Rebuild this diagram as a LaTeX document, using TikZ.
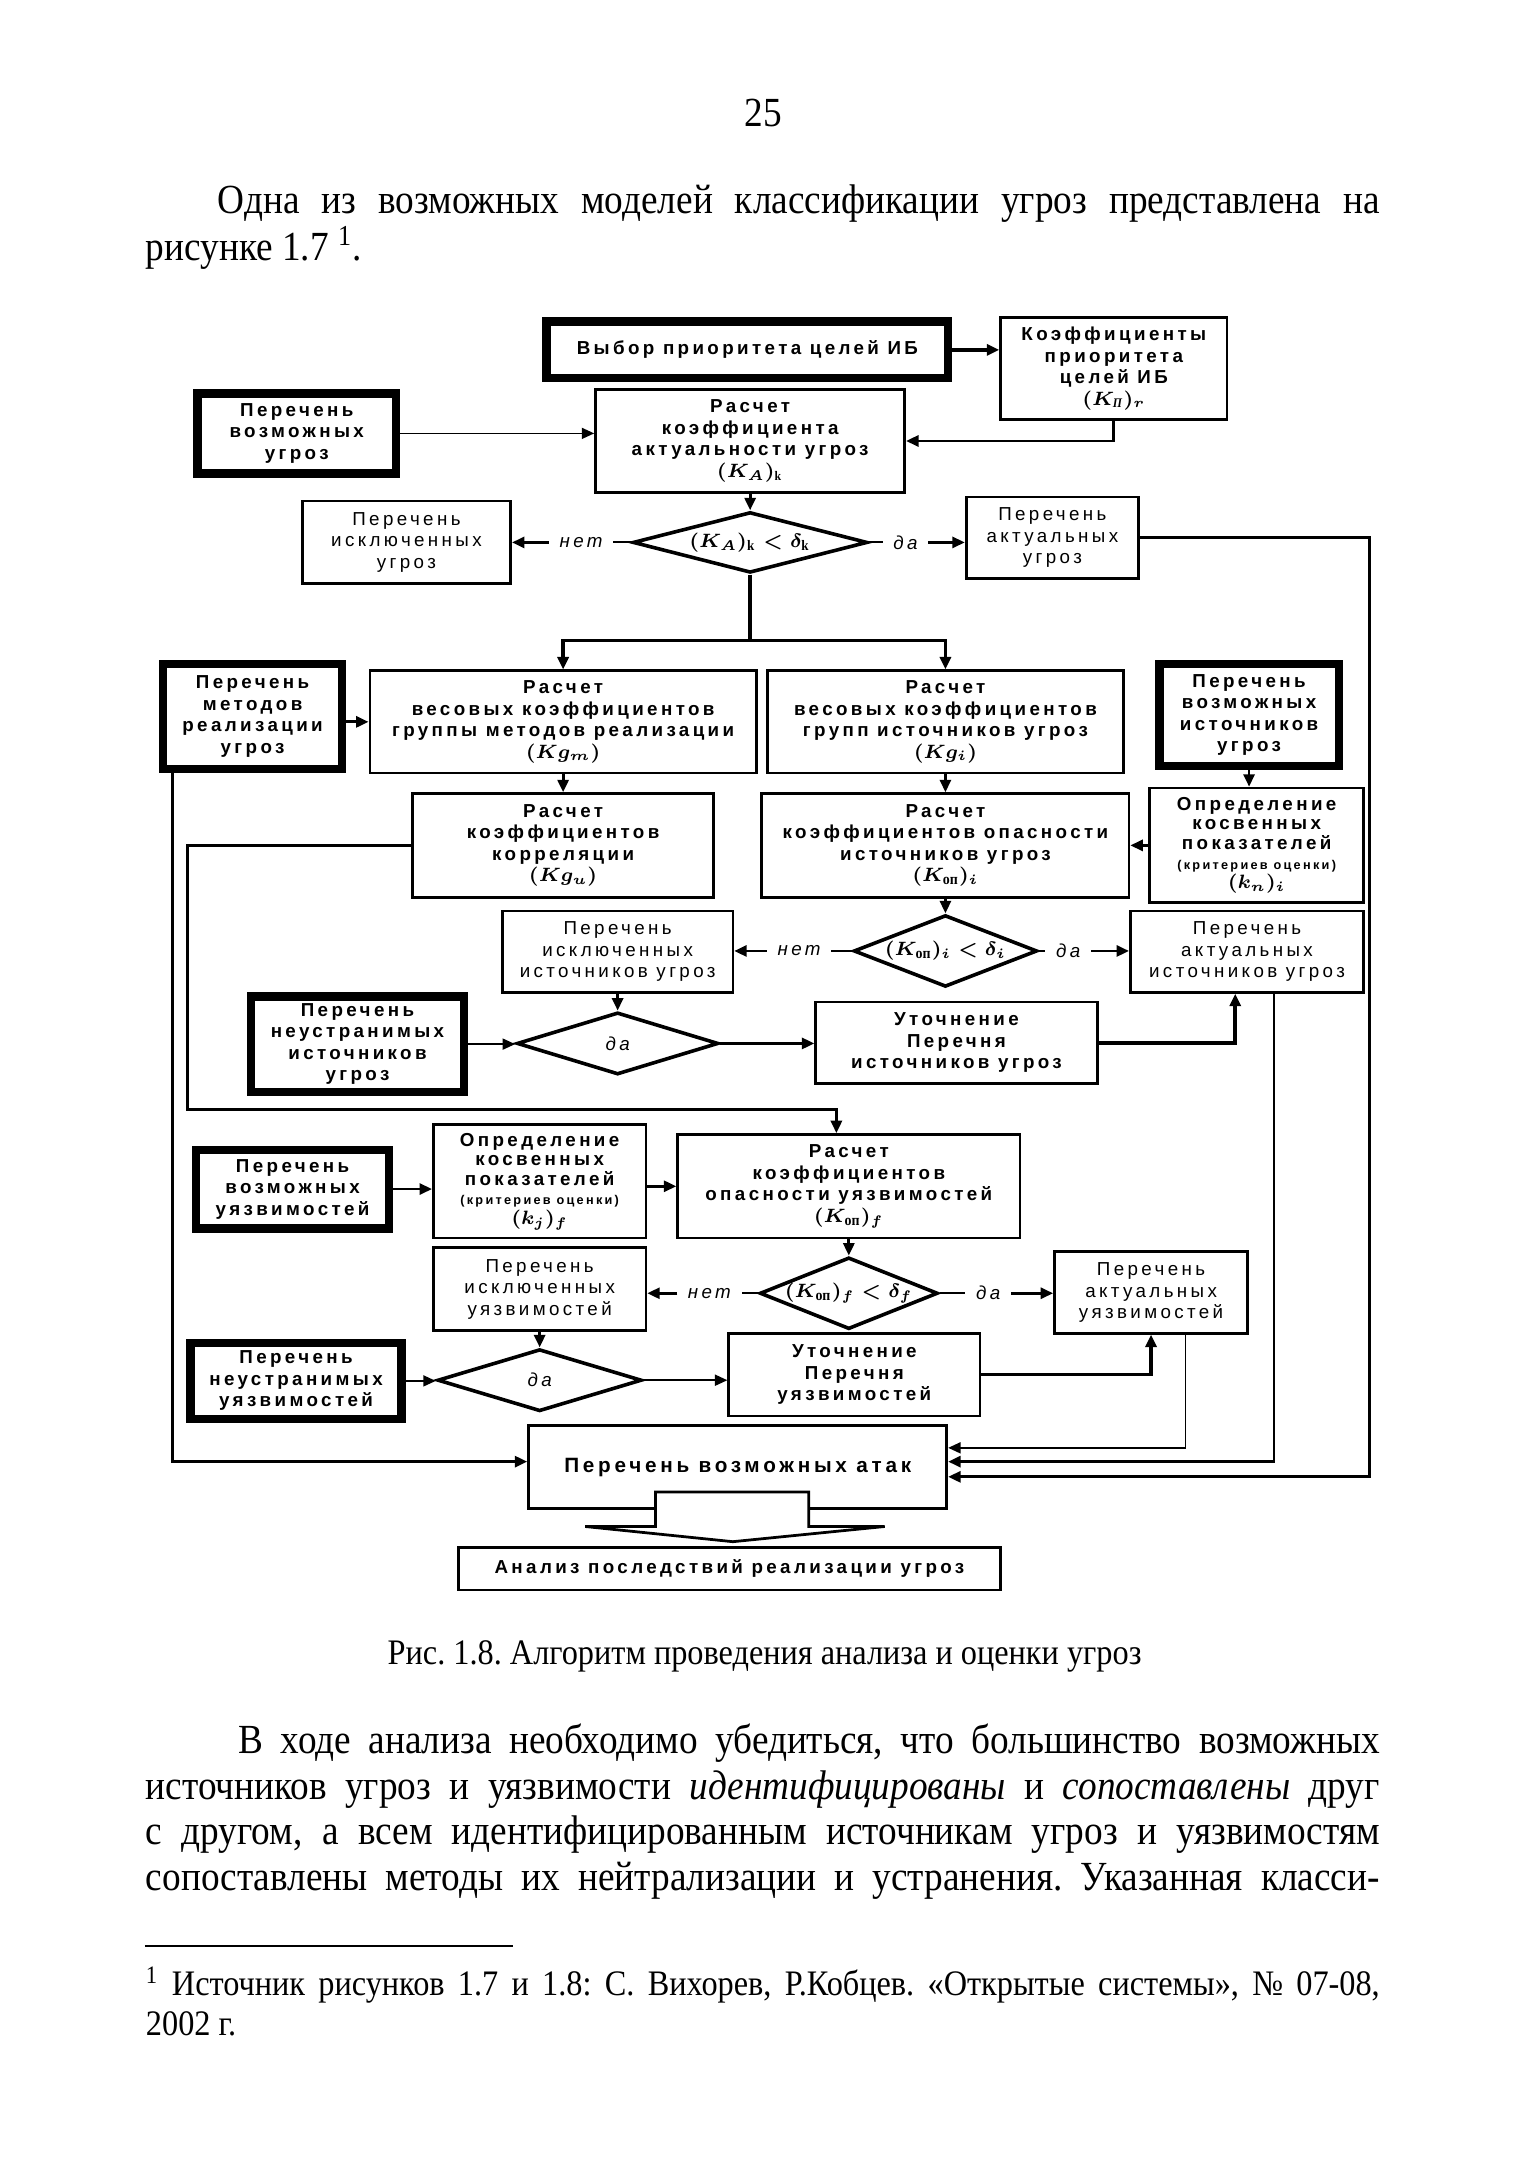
\documentclass[tikz,border=0pt]{standalone}
\usepackage{fontspec}
\usepackage{amsmath}
\usetikzlibrary{arrows.meta,shapes.geometric}
\setmainfont{Liberation Serif}[FakeStretch=0.9]
\newfontfamily\boxfont{Liberation Sans}[LetterSpace=18]
\newcommand{\blkfont}{\boxfont\bfseries\fontsize{6.8}{7.8}\selectfont}
\newcommand{\lstfont}{\boxfont\fontsize{6.8}{7.8}\selectfont}
\newcommand{\critfont}{\fontsize{4.6}{5.4}\selectfont}
\newcommand{\Kop}{K_{\text{\rmfamily\bfseries\fontsize{5.6}{6}\selectfont оп}}}

\tikzset{every picture/.style={line width=0.75pt}}
\tikzset{
  blk/.style={draw, line width=1pt, align=center, inner sep=1pt, font=\blkfont},
  thickblk/.style={blk, line width=3pt},
  lst/.style={blk, font=\lstfont},
  cond/.style={draw, diamond, line width=1.3pt, inner sep=0pt, align=center, font=\fontsize{7.5}{9}\selectfont},
  lbl/.style={inner sep=3.5pt, font=\boxfont\itshape\fontsize{6.8}{7.8}\selectfont},
  arr/.style={-{Triangle[length=4.5pt,width=4pt]}, line width=1pt},
  thin/.style={line width=0.6pt},
  heavy/.style={line width=1.3pt},
  pagetext/.style={inner sep=0pt, font=\frenchspacing\fontsize{15}{17}\selectfont},
  captext/.style={inner sep=0pt, font=\frenchspacing\fontsize{13}{15}\selectfont}
}

\begin{document}
\begin{tikzpicture}[x=0.5pt,y=0.5pt,yscale=-1,xscale=1]
	\path[use as bounding box, fill=white] (0,0) rectangle (1106,1565);

	% Text Node
	\node[pagetext] (pnum) at (553,82) {25};
	% Text Node
	\node[pagetext, anchor=mid west] (introA) at (157,150) {\makebox[421pt][s]{Одна из возможных моделей классификации угроз представлена на}};
	% Text Node
	\node[pagetext, anchor=mid west] (introB) at (105,184) {рисунке 1.7 \textsuperscript{1}.};

	%Shape: Rectangle
	\node[thickblk, minimum width=145.5pt, minimum height=20.5pt] (prio) at (541.5,253.5) {Выбор приоритета целей ИБ};
	\node[blk, minimum width=82pt, minimum height=37pt] (coef) at (807,267) {Коэффициенты\\приоритета\\целей ИБ\\{\boldmath$(K_{\text{\rmfamily\itshape П}})_r$}};
	\node[thickblk, minimum width=72pt, minimum height=29pt] (thr) at (215,314) {Перечень\\возможных\\угроз};
	\node[blk, minimum width=112pt, minimum height=37.5pt] (calc) at (543.5,319.5) {Расчет\\коэффициента\\актуальности угроз\\{\boldmath$(K_A)_{\mathrm{k}}$}};
	\node[cond, aspect=3.86, minimum width=85pt, minimum height=22pt] (dA) at (543.5,393) {{\boldmath$(K_A)_{\mathrm{k}}\mathrel{<}\delta_{\mathrm{k}}$}};
	\node[lst, minimum width=75.5pt, minimum height=30pt] (exA) at (294.5,393) {Перечень\\исключенных\\угроз};
	\node[lst, minimum width=62.5pt, minimum height=29.5pt] (actA) at (762.5,389.5) {Перечень\\актуальных\\угроз};

	\node[thickblk, minimum width=65pt, minimum height=38pt] (meth) at (183,519) {Перечень\\методов\\реализации\\угроз};
	\node[blk, minimum width=140pt, minimum height=37pt] (wm) at (408,523) {Расчет\\весовых коэффициентов\\группы методов реализации\\{\boldmath$(Kg_m)$}};
	\node[blk, minimum width=129pt, minimum height=37pt] (wi) at (685,523) {Расчет\\весовых коэффициентов\\групп источников угроз\\{\boldmath$(Kg_i)$}};
	\node[thickblk, minimum width=65pt, minimum height=37pt] (src) at (905,518) {Перечень\\возможных\\источников\\угроз};
	\node[blk, minimum width=77.5pt, minimum height=41.5pt, font=\boxfont\bfseries\fontsize{6.8}{7.1}\selectfont] (ind) at (910.5,612.5) {Определение\\косвенных\\показателей\\{\critfont (критериев оценки)}\\{\boldmath$(k_n)_i$}};
	\node[blk, minimum width=109pt, minimum height=37.5pt] (corr) at (408,612.5) {Расчет\\коэффициентов\\корреляции\\{\boldmath$(Kg_u)$}};
	\node[blk, minimum width=133pt, minimum height=37.5pt] (dng) at (685,612.5) {Расчет\\коэффициентов опасности\\источников угроз\\{\boldmath$(\Kop)_i$}};
	\node[cond, aspect=2.56, minimum width=66.5pt, minimum height=26pt] (dI) at (685,689) {{\boldmath$(\Kop)_i\mathrel{<}\delta_i$}};
	\node[lst, minimum width=83.5pt, minimum height=29.5pt] (exI) at (447.5,689.5) {Перечень\\исключенных\\источников угроз};
	\node[lst, minimum width=84.5pt, minimum height=29.5pt] (actI) at (903.5,689.5) {Перечень\\актуальных\\источников угроз};
	\node[thickblk, minimum width=77pt, minimum height=34.5pt] (fix) at (259,756.5) {Перечень\\неустранимых\\источников\\угроз};
	\node[cond, aspect=3.24, minimum width=73pt, minimum height=22.5pt, font=\boxfont\itshape\fontsize{6.8}{7.8}\selectfont] (dN) at (447.5,756) {да};
	\node[blk, minimum width=102pt, minimum height=29.5pt] (refI) at (693,755.5) {Уточнение\\Перечня\\источников угроз};

	\node[thickblk, minimum width=70pt, minimum height=28.5pt] (vul) at (212,861.5) {Перечень\\возможных\\уязвимостей};
	\node[blk, minimum width=77pt, minimum height=41pt, font=\boxfont\bfseries\fontsize{6.8}{7.1}\selectfont] (indV) at (391,856) {Определение\\косвенных\\показателей\\{\critfont (критериев оценки)}\\{\boldmath$(k_j)_f$}};
	\node[blk, minimum width=124pt, minimum height=37.5pt] (dngV) at (615,859.5) {Расчет\\коэффициентов\\опасности уязвимостей\\{\boldmath$(\Kop)_f$}};
	\node[cond, aspect=2.48, minimum width=64.5pt, minimum height=26pt] (dV) at (615,937) {{\boldmath$(\Kop)_f\mathrel{<}\delta_f$}};
	\node[lst, minimum width=77pt, minimum height=30pt] (exV) at (391,934) {Перечень\\исключенных\\уязвимостей};
	\node[lst, minimum width=70pt, minimum height=29.5pt] (actV) at (834,936.5) {Перечень\\актуальных\\уязвимостей};
	\node[thickblk, minimum width=76.5pt, minimum height=27.5pt] (fixV) at (214.5,1000.5) {Перечень\\неустранимых\\уязвимостей};
	\node[cond, aspect=3.29, minimum width=74pt, minimum height=22.5pt, font=\boxfont\itshape\fontsize{6.8}{7.8}\selectfont] (dU) at (391,1000) {да};
	\node[blk, minimum width=91pt, minimum height=30pt] (refV) at (619,996) {Уточнение\\Перечня\\уязвимостей};

	\node[blk, minimum width=151.5pt, minimum height=30pt, font=\boxfont\bfseries\fontsize{7.5}{9}\selectfont] (atk) at (534.5,1063) {Перечень возможных атак};
	\node[blk, minimum width=196.5pt, minimum height=15.5pt] (res) at (528.5,1136.5) {Анализ последствий реализации угроз};

	%Shape: Block Arrow
	\draw[line width=1pt, fill=white] (475,1081) -- (586,1081) -- (586,1106) -- (641,1106) -- (531,1117) -- (424,1106) -- (475,1106) -- cycle;

	% Text Node
	\node[lbl] (noA) at (421,393) {нет};
	\node[lbl] (yesA) at (656,393) {да};
	\node[lbl] (noI) at (579,689) {нет};
	\node[lbl] (yesI) at (774,689) {да};
	\node[lbl] (noV) at (514,937) {нет};
	\node[lbl] (yesV) at (716,937) {да};

	\coordinate (splitA) at (543.5,464);
	\coordinate (busA) at (992,1070);
	\coordinate (busM) at (125,1059);
	\coordinate (busK) at (136,804);
	\coordinate (busQ) at (923,1059);
	\coordinate (busV) at (859,1049);

	%Straight Lines
	\draw[arr, heavy] (prio.east) -- (prio.east -| coef.west);
	\draw[arr, thin] (thr.east) -- (thr.east -| calc.west);
	\draw[arr] (coef.south) |- (calc.east);
	\draw[arr] (calc.south) -- (dA.north);
	\draw (dA.west) -- (noA.east);
	\draw[arr] (noA.west) -- (noA.west -| exA.east);
	\draw (dA.east) -- (yesA.west);
	\draw[arr] (yesA.east) -- (yesA.east -| actA.west);
	\draw[heavy] (dA.south) -- (splitA);
	\draw[arr, heavy] (splitA) -| (wm.north);
	\draw[arr, heavy] (splitA) -| (wi.north);
	\draw[arr] (actA.east) -| (busA) -- (busA -| atk.east);

	\draw[arr] (meth.east |- wm.west) -- (wm.west);
	\draw[arr] (meth.south -| busM) -- (busM) -- (busM -| atk.west);
	\draw[arr] (wm.south) -- (corr.north);
	\draw[arr] (wi.south) -- (dng.north);
	\draw[arr] (src.south) -- (src.south |- ind.north);
	\draw[arr] (ind.west) -- (ind.west -| dng.east);
	\draw[arr] (corr.west) -| (busK) -| ([xshift=-4.5pt]dngV.north);
	\draw[arr] (dng.south) -- (dI.north);
	\draw (dI.west) -- (noI.east);
	\draw[arr] (noI.west) -- (noI.west -| exI.east);
	\draw (dI.east) -- (yesI.west);
	\draw[arr] (yesI.east) -- (yesI.east -| actI.west);
	\draw[arr] (exI.south) -- (exI.south |- dN.north);
	\draw[arr, thin] (fix.east) -- (fix.east -| dN.west);
	\draw[arr] (dN.east) -- (dN.east -| refI.west);
	\draw[arr, heavy] (refI.east) -| ([xshift=-4.25pt]actI.south);
	\draw[arr] (actI.south -| busQ) -- (busQ) -- (busQ -| atk.east);

	\draw[arr] (vul.east) -- (vul.east -| indV.west);
	\draw[arr] (indV.east |- dngV.west) -- (dngV.west);
	\draw[arr] (dngV.south) -- (dV.north);
	\draw (dV.west) -- (noV.east);
	\draw[arr] (noV.west) -- (noV.west -| exV.east);
	\draw (dV.east) -- (yesV.west);
	\draw[arr] (yesV.east) -- (yesV.east -| actV.west);
	\draw[arr] (exV.south) -- (dU.north);
	\draw[arr, thin] (fixV.east) -- (fixV.east -| dU.west);
	\draw[arr, thin] (dU.east) -- (dU.east -| refV.west);
	\draw[arr, heavy] (refV.east) -| (actV.south);
	\draw[arr, thin] (actV.south -| busV) -- (busV) -- (busV -| atk.east);

	% Text Node
	\node[captext] (cap) at (554,1200) {Рис. 1.8. Алгоритм проведения анализа и оценки угроз};
	% Text Node
	\node[pagetext, anchor=mid west] (parA) at (172,1266) {\makebox[413.5pt][s]{В ходе анализа необходимо убедиться, что большинство возможных}};
	\node[pagetext, anchor=mid west] (parB) at (105,1299) {\makebox[447pt][s]{источников угроз и уязвимости \textit{идентифицированы} и \textit{сопоставлены} друг}};
	\node[pagetext, anchor=mid west] (parC) at (105,1332) {\makebox[447pt][s]{с другом, а всем идентифицированным источникам угроз и уязвимостям}};
	\node[pagetext, anchor=mid west] (parD) at (105,1365) {\makebox[447pt][s]{сопоставлены методы их нейтрализации и устранения. Указанная класси-}};

	%Straight Lines
	\draw[line width=0.8pt] (105,1410) -- (372,1410);
	% Text Node
	\node[captext, anchor=mid west] (noteA) at (105,1441) {\makebox[447pt][s]{\textsuperscript{1} Источник рисунков 1.7 и 1.8: С. Вихорев, Р.Кобцев. «Открытые системы», № 07-08,}};
	\node[captext, anchor=mid west] (noteB) at (105,1470) {2002 г.};

\end{tikzpicture}
\end{document}
